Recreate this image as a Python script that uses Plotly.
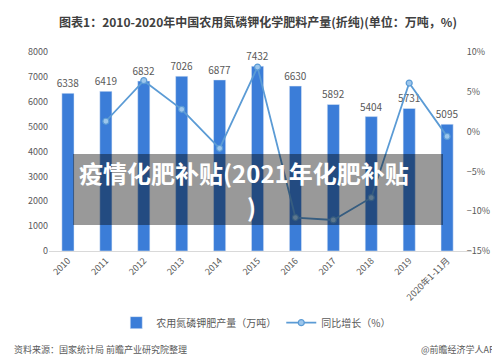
import plotly.graph_objects as go

years = ["2010", "2011", "2012", "2013", "2014", "2015", "2016", "2017", "2018", "2019", "2020年1-11月"]
output = [6338, 6419, 6832, 7026, 6877, 7432, 6630, 5892, 5404, 5731, 5095]
growth_years = years[1:]
growth = [1.3, 6.4, 2.8, -2.1, 8.1, -10.8, -11.1, -8.3, 6.1, -0.6]
overlay_lines = ["疫情化肥补贴(2021年化肥补贴", ")"]

FONT = "Noto Sans CJK SC, Noto Sans, sans-serif"
GRAY = "#595959"

fig = go.Figure()
fig.add_trace(go.Bar(
    x=years, y=output, name="农用氮磷钾肥产量（万吨）",
    marker_color="#3b7dd8", width=0.32,
    text=[str(v) for v in output], textposition="outside", constraintext="none",
    textfont=dict(size=10, color=GRAY), cliponaxis=False,
))
fig.add_trace(go.Scatter(
    x=growth_years, y=growth, name="同比增长（%）", yaxis="y2",
    mode="lines+markers",
    line=dict(color="#5b9bd5", width=1.8),
    marker=dict(symbol="circle", size=6, color="#9cc6ec", line=dict(color="#5b9bd5", width=1.2)),
))

fig.update_layout(
    width=500, height=364,
    margin=dict(l=41, r=36, t=44, b=121),
    paper_bgcolor="white", plot_bgcolor="white",
    font=dict(family=FONT, color=GRAY, size=10),
    showlegend=True,
    legend=dict(orientation="h", x=0.49, xanchor="center", y=-0.36, yanchor="middle",
                font=dict(size=10, color=GRAY), itemwidth=30),
    xaxis=dict(tickangle=-45, tickfont=dict(size=9, color=GRAY), showgrid=False,
               showline=True, linecolor="#d9d9d9", linewidth=1, ticks="", ticklen=0),
    yaxis=dict(range=[0, 8000], dtick=1000, showgrid=False, zeroline=False,
               tickfont=dict(size=9, color=GRAY), ticks="", ticklen=0),
    yaxis2=dict(range=[-15, 10], dtick=5, overlaying="y", side="right", showgrid=False,
                anchor="free", position=0.985,
                zeroline=False, ticksuffix="%", tickfont=dict(size=9, color=GRAY),
                ticks="", ticklen=0),
    title=dict(text="<b>图表1：2010-2020年中国农用氮磷钾化学肥料产量(折纯)(单位：万吨，%)</b>",
               x=0.5, xanchor="center", y=0.958, yanchor="middle",
               font=dict(size=12, color="#404040", family=FONT)),
)

W = 500 - 41 - 36
fig.add_shape(type="rect", xref="paper", yref="paper",
              x0=(65 - 41) / W, x1=(435 - 41) / W, y0=(243 - 217) / 199, y1=(243 - 146) / 199,
              fillcolor="rgba(0,0,0,0.4)", line=dict(width=0), layer="above")
for line_text, cx, cy in zip(overlay_lines, [236, 243], [164, 198]):
    fig.add_annotation(xref="paper", yref="paper", x=(cx - 41) / W, y=(243 - cy) / 199,
                       xanchor="center", yanchor="middle", showarrow=False,
                       text=f"<b>{line_text}</b>",
                       font=dict(size=24, color="white", family=FONT))

fig.add_annotation(xref="paper", yref="paper", x=-37 / W, y=-(341 - 243) / 199,
                   xanchor="left", yanchor="middle", showarrow=False,
                   text="资料来源：国家统计局 前瞻产业研究院整理", font=dict(size=9, color=GRAY))
fig.add_annotation(xref="paper", yref="paper", x=(495 - 41) / W, y=-(341 - 243) / 199,
                   xanchor="right", yanchor="middle", showarrow=False,
                   text="@前瞻经济学人APP", font=dict(size=9, color=GRAY))

fig.write_html("out.html")
